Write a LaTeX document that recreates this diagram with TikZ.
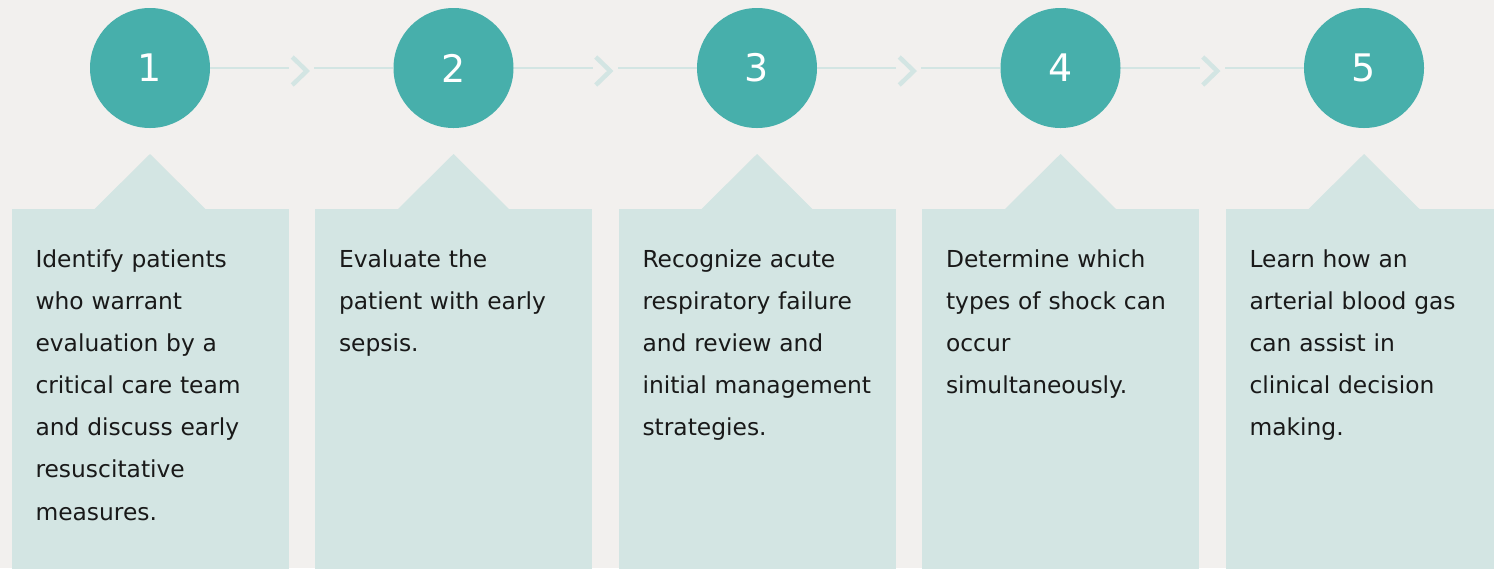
\documentclass[tikz,border=0pt]{standalone}
\usepackage{fontspec}
\setmainfont{DejaVu Sans}
\usetikzlibrary{positioning, calc}
\definecolor{cBack}{RGB}{242, 240, 238}
\definecolor{cStep}{RGB}{71, 175, 171}
\definecolor{cCard}{RGB}{211, 229, 227}
\definecolor{cText}{RGB}{25, 25, 25}

\begin{document}
\begin{tikzpicture}[
    stepnum/.style={circle, fill=cStep, minimum size=2.4cm, inner sep=0pt, text=white, font=\fontsize{21.6}{26}\selectfont},
    card/.style={rectangle, fill=cCard, minimum width=5.54cm, minimum height=7.2cm, inner sep=0pt, anchor=north},
    desc/.style={anchor=base west, inner sep=0pt, text width=4.9cm, align=left, text=cText, font=\fontsize{13.3}{24}\selectfont},
    link/.style={draw=cCard, line width=0.04cm},
    chevron/.style={fill=cBack, minimum width=0.5cm, minimum height=0.8cm, inner sep=0pt,
        path picture={\draw[cCard, line width=0.09cm]
            ([shift={(-0.19,0.22)}]path picture bounding box.center) --
            ([shift={(0.1,-0.06)}]path picture bounding box.center) --
            ([shift={(-0.19,-0.34)}]path picture bounding box.center);}}
]

    % --- Makro: Kreis mit Nummer + Karte mit Spitze und Text ---
    \newcommand{\learnStep}[4]{
        \node[stepnum] (#1) at (#2, -1.36) {#3};
        \node[card] (#1_card) at (#2, -4.18) {};
        % Spitze oben
        \fill[cCard] ($(#1_card.north)+(-1.12,-0.01)$) -- ($(#1_card.north)+(0,1.1)$) -- ($(#1_card.north)+(1.12,-0.01)$) -- cycle;
        % Beschriftung
        \node[desc] (#1_text) at ($(#1_card.north west)+(0.48,-1.16)$) {#4};
    }

    % Rahmen + Hintergrund
    \useasboundingbox (0,0) rectangle (29.88,-11.36);
    \clip (0,0) rectangle (29.88,-11.36);
    \fill[cBack] (0,0) rectangle (29.88,-11.36);

    % 1.
    \learnStep{s1}{3}{1}{Identify patients\\who warrant\\evaluation by a\\critical care team\\and discuss early\\resuscitative\\measures.}
    % 2.
    \learnStep{s2}{9.07}{2}{Evaluate the\\patient with early\\sepsis.}
    % 3.
    \learnStep{s3}{15.14}{3}{Recognize acute\\respiratory failure\\and review and\\initial management\\strategies.}
    % 4.
    \learnStep{s4}{21.21}{4}{Determine which\\types of shock can\\occur\\simultaneously.}
    % 5.
    \learnStep{s5}{27.28}{5}{Learn how an\\arterial blood gas\\can assist in\\clinical decision\\making.}

    % Verbindungen mit Winkel
    \draw[link] (s1) -- node[chevron] (c12) {} (s2);
    \draw[link] (s2) -- node[chevron] (c23) {} (s3);
    \draw[link] (s3) -- node[chevron] (c34) {} (s4);
    \draw[link] (s4) -- node[chevron] (c45) {} (s5);

\end{tikzpicture}
\end{document}
